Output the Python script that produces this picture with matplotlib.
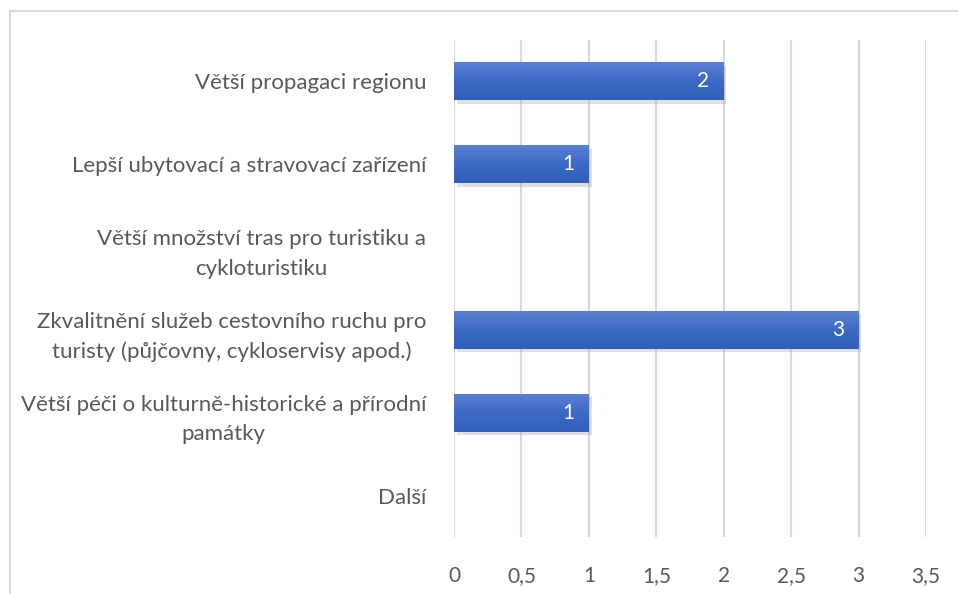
import numpy as np
import matplotlib.pyplot as plt
import matplotlib.patheffects as pe
from matplotlib.colors import LinearSegmentedColormap
from matplotlib.ticker import FuncFormatter

# data (shora dolů)
categories = [
    "Větší propagaci regionu",
    "Lepší ubytovací a stravovací zařízení",
    "Větší množství tras pro turistiku a\ncykloturistiku",
    "Zkvalitnění služeb cestovního ruchu pro\nturisty (půjčovny, cykloservisy apod.)",
    "Větší péči o kulturně-historické a přírodní\npamátky",
    "Další",
]
values = [2, 1, 0, 3, 1, 0]
xticks = [0, 0.5, 1, 1.5, 2, 2.5, 3, 3.5]

plt.rcParams['font.family'] = ['Lato', 'DejaVu Sans']
text_col = '#595959'
grid_col = '#d9d9d9'

fig = plt.figure(figsize=(9.58, 5.94), dpi=100)
ax = fig.add_axes([0.4739, 0.0960, 0.4927, 0.8367])

y = np.arange(len(categories))
bars = ax.barh(y, values, height=0.46, color='#4472c4', zorder=3,
               path_effects=[pe.SimplePatchShadow(offset=(2, -2.5), shadow_rgbFace='#999999', alpha=0.3), pe.Normal()])

# gradient fill like in Excel
grad = LinearSegmentedColormap.from_list('g', ['#5b81d1', '#3d6ac5', '#3060bb'])
gimg = np.linspace(0, 1, 64).reshape(-1, 1)
for b, v in zip(bars, values):
    if v <= 0:
        continue
    x0, y0, w, h = b.get_x(), b.get_y(), b.get_width(), b.get_height()
    im = ax.imshow(gimg, cmap=grad, aspect='auto', extent=[x0, x0 + w, y0 + h, y0],
                   origin='upper', zorder=4)
    im.set_clip_path(b)
    ax.text(v - 0.15, b.get_y() + h / 2, str(v), color='white', fontsize=15,
            ha='center', va='center', zorder=5)

ax.set_xlim(0, 3.5)
ax.set_ylim(len(categories) - 0.5, -0.5)
ax.set_xticks(xticks)
ax.xaxis.set_major_formatter(FuncFormatter(lambda v, p: f"{v:g}".replace('.', ',')))
ax.set_yticks(y)
ax.set_yticklabels(categories, multialignment='center', linespacing=1.6)
ax.tick_params(axis='both', length=0, labelcolor=text_col)
ax.tick_params(axis='x', pad=21, labelsize=15)
ax.tick_params(axis='y', pad=20, labelsize=16)
ax.grid(axis='x', color=grid_col, linewidth=1.5, zorder=0)
for s in ax.spines.values():
    s.set_visible(False)

# ramecek grafu (jen levy a horni okraj je videt)
fig.add_artist(plt.Line2D([9.5 / 958, 9.5 / 958], [0, 1 - 10.5 / 594], color=grid_col, linewidth=1.5))
fig.add_artist(plt.Line2D([9.5 / 958, 1], [1 - 10.5 / 594, 1 - 10.5 / 594], color=grid_col, linewidth=1.5))

fig.savefig('out.png', dpi=100)
